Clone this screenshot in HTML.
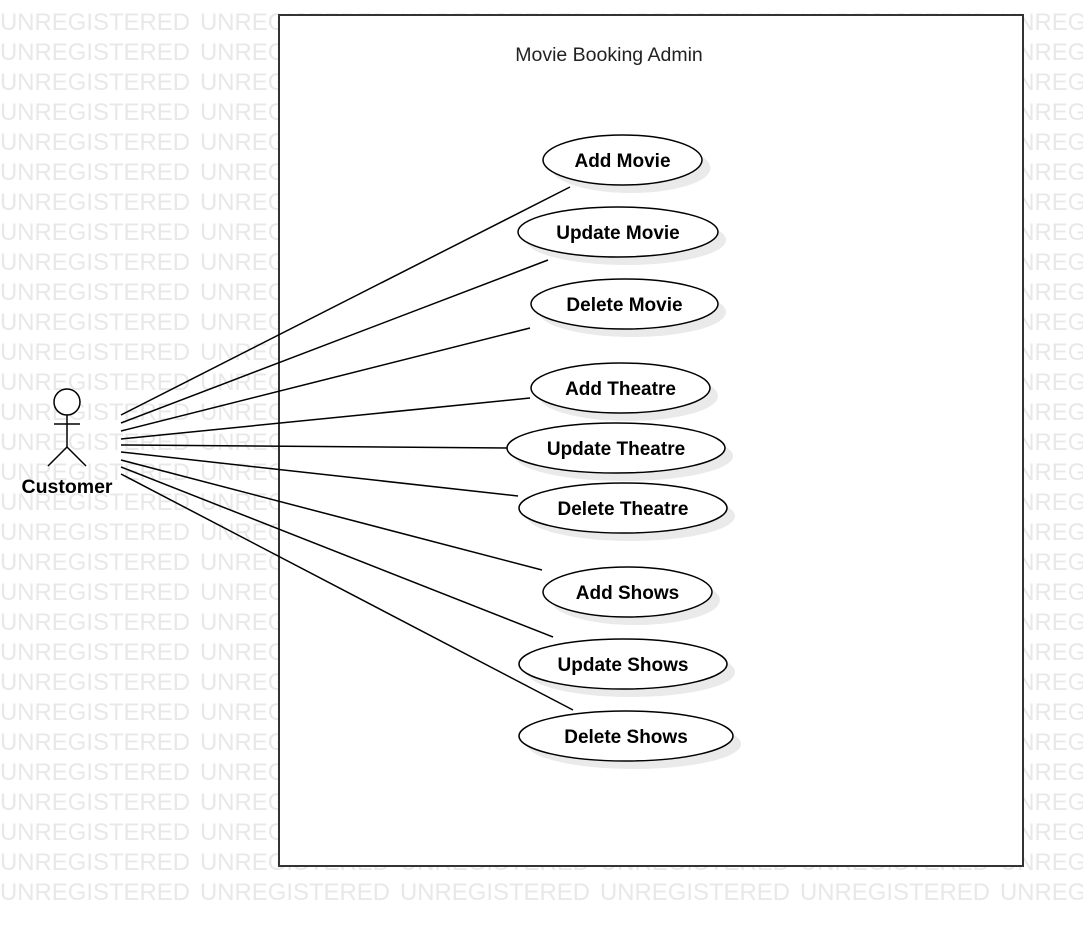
<!DOCTYPE html>
<html><head><style>html,body{margin:0;padding:0;background:#fff;}svg{display:block}</style></head>
<body>
<svg width="1083" height="927" xmlns="http://www.w3.org/2000/svg" font-family="Liberation Sans, sans-serif">
<g id="wm" fill="#e8e8e8" font-size="24"></g>
<rect x="279" y="15" width="744" height="851" fill="#fff" stroke="#333" stroke-width="2"/>
<text x="609" y="61" font-size="19.5" text-anchor="middle" fill="#222">Movie Booking Admin</text>
<g stroke="#000" stroke-width="1.5">
<line x1="121" y1="415" x2="570" y2="187"/>
<line x1="121" y1="423" x2="548" y2="260"/>
<line x1="121" y1="431" x2="530" y2="328"/>
<line x1="121" y1="439" x2="530" y2="398"/>
<line x1="121" y1="445" x2="507" y2="448"/>
<line x1="121" y1="452" x2="518" y2="496"/>
<line x1="121" y1="460" x2="542" y2="570"/>
<line x1="121" y1="467" x2="553" y2="637"/>
<line x1="121" y1="474" x2="573" y2="710"/>
</g>
<g fill="none" stroke="#000" stroke-width="1.5">
<circle cx="67" cy="402" r="13" fill="#fff"/>
<line x1="67" y1="415" x2="67" y2="447"/>
<line x1="54" y1="424" x2="80" y2="424"/>
<line x1="67" y1="447" x2="48" y2="466"/>
<line x1="67" y1="447" x2="86" y2="466"/>
</g>
<text x="67" y="493" font-size="19.5" font-weight="bold" text-anchor="middle">Customer</text>
<g font-size="19" font-weight="bold" text-anchor="middle">
<g><ellipse cx="631" cy="168" rx="79.5" ry="25" fill="#eaeaea"/><ellipse cx="622.5" cy="160" rx="79.5" ry="25" fill="#fff" stroke="#000" stroke-width="1.5"/><text x="622.5" y="167">Add Movie</text></g>
<g><ellipse cx="626" cy="240" rx="100" ry="25" fill="#eaeaea"/><ellipse cx="618" cy="232" rx="100" ry="25" fill="#fff" stroke="#000" stroke-width="1.5"/><text x="618" y="239">Update Movie</text></g>
<g><ellipse cx="632.5" cy="312" rx="93.5" ry="25" fill="#eaeaea"/><ellipse cx="624.5" cy="304" rx="93.5" ry="25" fill="#fff" stroke="#000" stroke-width="1.5"/><text x="624.5" y="311">Delete Movie</text></g>
<g><ellipse cx="628.5" cy="396" rx="89.5" ry="25" fill="#eaeaea"/><ellipse cx="620.5" cy="388" rx="89.5" ry="25" fill="#fff" stroke="#000" stroke-width="1.5"/><text x="620.5" y="395">Add Theatre</text></g>
<g><ellipse cx="624" cy="456" rx="109" ry="25" fill="#eaeaea"/><ellipse cx="616" cy="448" rx="109" ry="25" fill="#fff" stroke="#000" stroke-width="1.5"/><text x="616" y="455">Update Theatre</text></g>
<g><ellipse cx="631" cy="516" rx="104" ry="25" fill="#eaeaea"/><ellipse cx="623" cy="508" rx="104" ry="25" fill="#fff" stroke="#000" stroke-width="1.5"/><text x="623" y="515">Delete Theatre</text></g>
<g><ellipse cx="635.5" cy="600" rx="84.5" ry="25" fill="#eaeaea"/><ellipse cx="627.5" cy="592" rx="84.5" ry="25" fill="#fff" stroke="#000" stroke-width="1.5"/><text x="627.5" y="599">Add Shows</text></g>
<g><ellipse cx="631" cy="672" rx="104" ry="25" fill="#eaeaea"/><ellipse cx="623" cy="664" rx="104" ry="25" fill="#fff" stroke="#000" stroke-width="1.5"/><text x="623" y="671">Update Shows</text></g>
<g><ellipse cx="634" cy="744" rx="107" ry="25" fill="#eaeaea"/><ellipse cx="626" cy="736" rx="107" ry="25" fill="#fff" stroke="#000" stroke-width="1.5"/><text x="626" y="743">Delete Shows</text></g>
</g>
</svg>
<script>
(function(){
var ns='http://www.w3.org/2000/svg';
var wm=document.getElementById('wm');
for(var r=0;r<30;r++){var y=30+r*30;
 for(var c=0;c<6;c++){var t=document.createElementNS(ns,'text');
  t.setAttribute('x',c*200);t.setAttribute('y',y);t.setAttribute('textLength','190');t.setAttribute('lengthAdjust','spacingAndGlyphs');
  t.textContent='UNREGISTERED';wm.appendChild(t);}}
})();
</script>
</body></html>
